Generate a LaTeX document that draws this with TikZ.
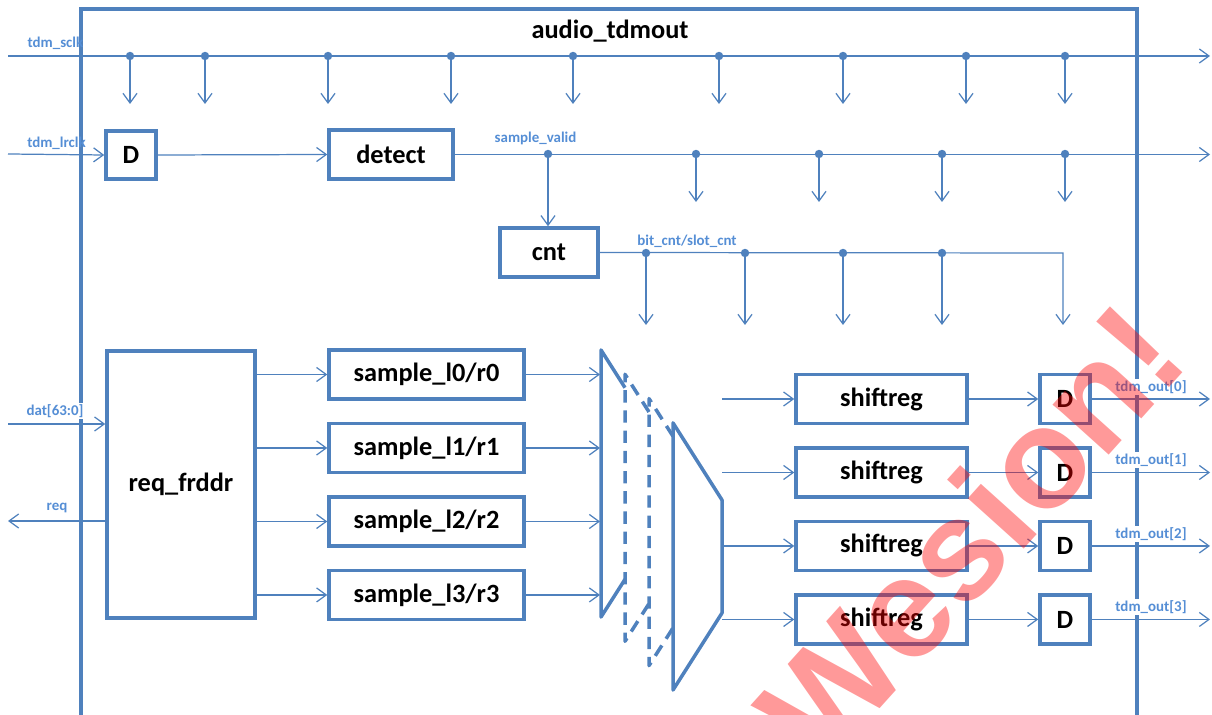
\documentclass[tikz,border=0pt]{standalone}
\usepackage{fontspec}
\setmainfont{Carlito}
\newfontfamily\wmfont{Liberation Sans}
\usetikzlibrary{arrows.meta,positioning}
\definecolor{linblue}{HTML}{4F81BD}
\definecolor{lblblue}{HTML}{558ED5}
\tikzset{
	blk/.style={draw=linblue, line width=2pt, fill=white, inner sep=0pt,
		font=\fontsize{15}{18}\selectfont\bfseries},
	sig/.style={draw=linblue, line width=0.7pt, -{Straight Barb[length=5.5pt,width=8pt]}},
	wire/.style={draw=linblue, line width=0.7pt},
	tap/.style={circle, fill=linblue, inner sep=0pt, minimum size=4.8pt},
	lbl/.style={text=lblblue, inner sep=1pt, font=\fontsize{8.5}{10}\selectfont\bfseries},
	muxedge/.style={draw=linblue, line width=2pt, line join=round},
	muxhid/.style={muxedge, dash pattern=on 7pt off 4.5pt}
}
\begin{document}
\begin{tikzpicture}[x=0.02cm, y=-0.02cm, node distance=1.47cm]
	\useasboundingbox (0,0) rectangle (1212,715);
	% Module border
	\draw[draw=linblue, line width=2.2pt] (81,740) -- (81,9) -- (1137,9) -- (1137,740);
	\node[font=\fontsize{15}{18}\selectfont\bfseries] (title) at (610,31) {audio\_tdmout};
	
	% Define nodes
	\node[blk, minimum width=1cm, minimum height=0.96cm] (dl) at (131,155) {D};
	\node[blk, minimum width=2.48cm, minimum height=0.98cm] (detect) at (391,154.5) {detect};
	\node[blk, minimum width=1.96cm, minimum height=0.98cm] (cnt) at (549,252.5) {cnt};
	\node[blk, minimum width=2.96cm, minimum height=5.34cm] (rq) at (181,484.5) {req\_frddr};
	\node[blk, minimum width=3.9cm, minimum height=0.98cm] (s0) at (426.5,374.5) {sample\_l0/r0};
	\node[blk, minimum width=3.9cm, minimum height=0.98cm, below of=s0] (s1) {sample\_l1/r1};
	\node[blk, minimum width=3.9cm, minimum height=0.98cm, below of=s1] (s2) {sample\_l2/r2};
	\node[blk, minimum width=3.9cm, minimum height=0.98cm, below of=s2] (s3) {sample\_l3/r3};
	\node[blk, minimum width=3.42cm, minimum height=0.98cm] (sr0) at (881.5,399) {shiftreg};
	\node[blk, minimum width=3.42cm, minimum height=0.98cm, below of=sr0] (sr1) {shiftreg};
	\node[blk, minimum width=3.42cm, minimum height=0.98cm, below of=sr1] (sr2) {shiftreg};
	\node[blk, minimum width=3.42cm, minimum height=0.98cm, below of=sr2] (sr3) {shiftreg};
	\foreach \i in {0,...,3}{
		\node[blk, minimum width=1cm, minimum height=0.98cm, right of=sr\i, node distance=3.67cm] (do\i) {D};}
	
	% Mux stack
	\coordinate (mxl) at (600,350); \coordinate (mxr) at (722,500);
	\draw[muxedge] (625,387.7) -- (601,350) -- (601,617) -- (625,579.3);
	\draw[muxhid] (649,412) -- (625,374.3) -- (625,641.3) -- (649,603.6);
	\draw[muxhid] (673,436.3) -- (649,398.6) -- (649,665.6) -- (673,627.9);
	\draw[muxedge] (673,422.9) -- (722,500) -- (722,613) -- (673,690) -- cycle;
	
	% Ports
	\coordinate (sclkin) at (8,56); \coordinate (rgt) at (1210,56);
	\coordinate (lrin) at (8,154); \coordinate (datin) at (8,424); \coordinate (reqo) at (8,521);
	\coordinate (cntc) at (1063,253); \coordinate (cnte) at (1063,325);
	
	% Draw edges
	\draw[sig] (sclkin) -- (rgt);
	\foreach \x [count=\i] in {130,205,328,451,573,719,843,966,1065}{
		\node[tap] (sc\i) at (\x,56) {}; \coordinate (sce\i) at (\x,104); \draw[sig] (sc\i.center) -- (sce\i);}
	\draw[sig] (lrin) -- (dl.west); \draw[sig] (dl.east) -- (detect.west);
	\draw[sig] (detect.east) -- (detect.east -| rgt);
	\node[tap] (sv) at (548,154) {}; \draw[sig] (sv.center) -- (sv.center |- cnt.north);
	\foreach \x [count=\i] in {696,819,942,1065}{
		\node[tap] (sv\i) at (\x,154) {}; \coordinate (sve\i) at (\x,202); \draw[sig] (sv\i.center) -- (sve\i);}
	\draw[sig] (cnt.east) -- (cntc) -- (cnte);
	\foreach \x [count=\i] in {646,745,843,942}{
		\node[tap] (bc\i) at (\x,253) {}; \coordinate (bce\i) at (\x,325); \draw[sig] (bc\i.center) -- (bce\i);}
	\draw[sig] (datin) -- (datin -| rq.west); \draw[sig] (rq.west |- reqo) -- (reqo);
	\foreach \i in {0,...,3}{
		\draw[sig] (rq.east |- s\i) -- (s\i.west);
		\draw[sig] (s\i.east) -- (s\i.east -| mxl);
		\draw[sig] (mxr |- sr\i) -- (sr\i.west);
		\draw[sig] (sr\i.east) -- (do\i.west);
		\draw[sig] (do\i.east) -- (do\i.east -| rgt);}
	
	% Labels
	\node[lbl] (lsclk) at (55.5,43) {tdm\_sclk};
	\node[lbl] (llrclk) at (56.5,143) {tdm\_lrclk};
	\node[lbl] (lvalid) at (535.5,138) {sample\_valid};
	\node[lbl] (lcnt) at (687,241) {bit\_cnt/slot\_cnt};
	\node[lbl, fill=white] (ldat) at (55,411) {dat[63:0]};
	\node[lbl] (lreq) at (57,508) {req};
	\foreach \y [count=\i from 0] in {387,460,534,607}{
		\node[lbl, fill=white] (lout\i) at (1151,\y) {tdm\_out[\i]};}
	
	% Watermark
	\node[rotate=48, text=red, opacity=0.4, font=\wmfont\bfseries\fontsize{81}{96}\selectfont] (wm) at (970,533) {Wesion!};
\end{tikzpicture}
\end{document}
